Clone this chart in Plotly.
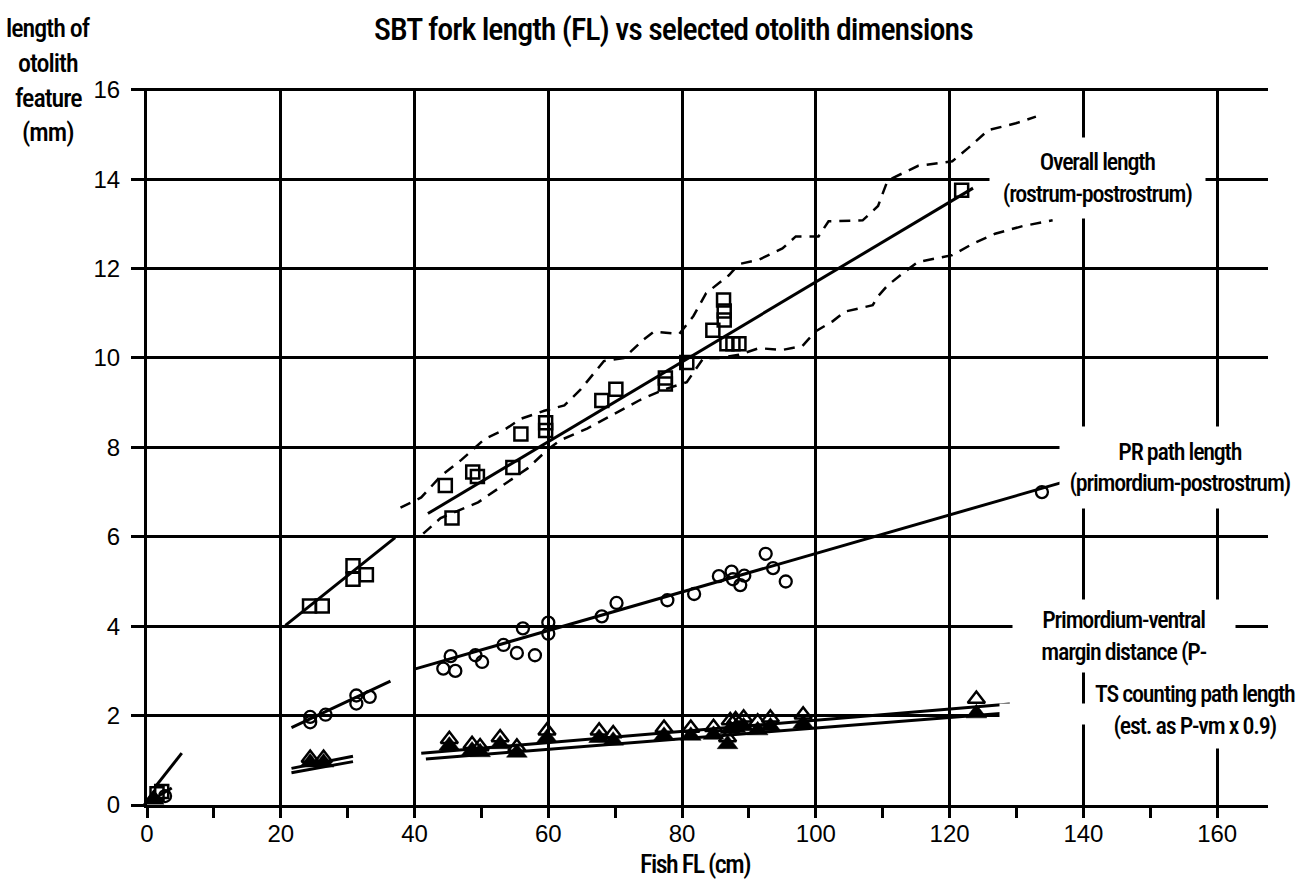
import plotly.graph_objects as go

# ---------------- data ----------------
# Overall length (rostrum-postrostrum), open squares
ol_x = [1.5, 2.2, 24.3, 26.2, 30.8, 30.8, 32.8, 44.6, 45.6, 48.7, 49.4, 54.7, 55.9,
        59.6, 59.6, 68.0, 70.1, 77.5, 77.5, 80.7, 84.6, 86.2, 86.3, 86.3, 86.7,
        87.6, 88.5, 121.8]
ol_y = [0.25, 0.3, 4.45, 4.45, 5.35, 5.05, 5.15, 7.15, 6.42, 7.45, 7.35, 7.55, 8.3,
        8.55, 8.38, 9.05, 9.3, 9.55, 9.42, 9.9, 10.62, 11.3, 11.05, 10.85, 10.32,
        10.32, 10.32, 13.75]
ol_fit0_x = [1.2, 5.2]
ol_fit0_y = [0.4, 1.16]
ol_fit1_x = [20.7, 37.1]
ol_fit1_y = [4.02, 5.98]
ol_fit2_x = [42.0, 123.5]
ol_fit2_y = [6.52, 13.8]

# envelope (dashed) around the adult overall-length fit
upper_x = [37.9, 41.0, 44.0, 47.0, 50.5, 53.5, 55.9, 59.4, 62.4, 64.8, 68.3, 71.3,
           74.3, 75.8, 79.6, 81.7, 83.6, 87.0, 88.5, 91.5, 95.0, 97.0, 100.4, 101.9,
           107.0, 109.3, 110.7, 111.4, 115.3, 120.4, 122.8, 125.8, 129.9, 132.9]
upper_y = [6.65, 6.88, 7.37, 7.72, 8.19, 8.4, 8.64, 8.82, 8.94, 9.29, 9.93, 10.0,
           10.42, 10.59, 10.54, 10.94, 11.45, 11.85, 12.1, 12.2, 12.45, 12.72, 12.72,
           13.06, 13.08, 13.4, 13.96, 14.02, 14.3, 14.4, 14.7, 15.1, 15.25, 15.4]
lower_x = [41.3, 43.9, 49.5, 53.5, 56.9, 59.9, 61.8, 65.8, 69.8, 73.7, 77.2, 80.7,
           83.2, 85.5, 88.5, 91.5, 95.0, 98.0, 100.0, 102.5, 104.4, 108.5, 109.3,
           110.7, 113.3, 115.3, 120.4, 123.4, 126.8, 130.9, 135.4]
lower_y = [6.07, 6.42, 6.77, 7.19, 7.53, 7.95, 8.16, 8.42, 8.75, 9.06, 9.29, 9.46,
           10.0, 10.0, 10.07, 10.22, 10.18, 10.27, 10.6, 10.82, 11.04, 11.18, 11.38,
           11.62, 11.93, 12.15, 12.3, 12.55, 12.78, 12.95, 13.08]

# PR path length (primordium-postrostrum), open circles
pr_x = [2.7, 24.4, 24.4, 26.7, 31.3, 31.3, 33.3, 44.3, 45.4, 46.1, 49.1, 50.1, 53.3,
        55.3, 56.2, 58.0, 60.0, 60.0, 68.0, 70.2, 77.8, 81.8, 85.5, 87.4, 87.6,
        89.3, 88.7, 92.5, 93.6, 95.5, 133.8]
pr_y = [0.2, 1.85, 1.97, 2.02, 2.45, 2.27, 2.42, 3.05, 3.33, 3.0, 3.35, 3.2, 3.58,
        3.4, 3.95, 3.35, 4.08, 3.83, 4.22, 4.52, 4.58, 4.72, 5.12, 5.22, 5.05,
        5.13, 4.92, 5.62, 5.3, 5.0, 7.0]
pr_fit0_x = [1.9, 3.7]
pr_fit0_y = [0.22, 0.38]
pr_fit1_x = [21.6, 36.4]
pr_fit1_y = [1.73, 2.77]
pr_fit2_x = [40.0, 138.8]
pr_fit2_y = [3.04, 7.3]

# Primordium-ventral margin distance (P-vm), open triangles
tri_x = [1.0, 24.4, 26.4, 45.2, 48.6, 49.8, 52.8, 55.3, 59.8, 67.6, 69.7, 77.3,
         81.3, 84.7, 86.8, 87.2, 88.0, 89.2, 91.3, 93.2, 98.1, 124.0]
pvm_y = [0.14, 1.05, 1.05, 1.47, 1.36, 1.31, 1.51, 1.3, 1.66, 1.66, 1.6, 1.72,
         1.72, 1.74, 1.51, 1.89, 1.91, 1.95, 1.86, 1.95, 2.02, 2.37]
pvm_fit1_x = [21.6, 30.8]
pvm_fit1_y = [0.82, 1.09]
pvm_fit2_x = [41.0, 129.0]
pvm_fit2_y = [1.16, 2.26]

# TS counting path length (est. as P-vm x 0.9), filled triangles
ts_y = [0.12, 0.95, 0.95, 1.33, 1.22, 1.18, 1.36, 1.17, 1.5, 1.5, 1.44, 1.55,
        1.55, 1.57, 1.36, 1.7, 1.72, 1.76, 1.67, 1.76, 1.82, 2.05]
ts_fit1_x = [21.6, 30.8]
ts_fit1_y = [0.72, 0.97]
ts_fit2_x = [41.7, 129.5]
ts_fit2_y = [1.03, 2.07]

x_ticks = [0, 20, 40, 60, 80, 100, 120, 140, 160]
y_ticks = [0, 2, 4, 6, 8, 10, 12, 14, 16]

# ---------------- styling ----------------
W, H = 1304, 884
L, R, T, B = 147, 36, 88, 79
PW, PH = W - L - R, H - T - B
COND = ("Noto Sans ExtraCondensed Medium, Noto Sans ExtraCondensed, "
        "Noto Sans Condensed, Roboto Condensed, Roboto, sans-serif")
SANS = "Liberation Sans, Arial, Helvetica, sans-serif"
K = "black"


def paper(px, py):
    return (px - L) / PW, (H - B - py) / PH


def tight(text, ls):
    """wrap each line in a span with negative letter spacing (narrow look)"""
    return "<br>".join('<span style="letter-spacing:%spx">%s</span>' % (ls, t)
                       for t in text.split("<br>"))


fig = go.Figure()


def fit(xs, ys, dash=None, width=3):
    fig.add_trace(go.Scatter(x=xs, y=ys, mode="lines", cliponaxis=False,
                             line=dict(color=K, width=width, dash=dash),
                             hoverinfo="skip"))


for xs, ys in [(ol_fit0_x, ol_fit0_y), (ol_fit1_x, ol_fit1_y), (ol_fit2_x, ol_fit2_y),
               (pr_fit0_x, pr_fit0_y), (pr_fit1_x, pr_fit1_y), (pr_fit2_x, pr_fit2_y),
               (pvm_fit1_x, pvm_fit1_y), (pvm_fit2_x, pvm_fit2_y),
               (ts_fit1_x, ts_fit1_y), (ts_fit2_x, ts_fit2_y)]:
    fit(xs, ys)

fit(upper_x, upper_y, dash="11px,8px", width=2.5)
fit(lower_x, lower_y, dash="11px,8px", width=2.5)

fig.add_trace(go.Scatter(x=ol_x, y=ol_y, mode="markers", cliponaxis=False,
                         marker=dict(symbol="square-open", size=13, color=K,
                                     line=dict(width=2.5, color=K))))
fig.add_trace(go.Scatter(x=pr_x, y=pr_y, mode="markers", cliponaxis=False,
                         marker=dict(symbol="circle-open", size=12, color=K,
                                     line=dict(width=2.3, color=K))))
fig.add_trace(go.Scatter(x=tri_x, y=pvm_y, mode="markers", cliponaxis=False,
                         marker=dict(symbol="triangle-up-open", size=15, color=K,
                                     line=dict(width=2.5, color=K))))
fig.add_trace(go.Scatter(x=tri_x, y=ts_y, mode="markers", cliponaxis=False,
                         marker=dict(symbol="triangle-up", size=18, color=K,
                                     line=dict(width=0.5, color=K))))

annotations = []


def box(px, py, w, h, text, size=24, ls=-1.2):
    x, y = paper(px, py)
    annotations.append(dict(x=x, y=y, xref="paper", yref="paper", text=tight(text, ls),
                            showarrow=False, xanchor="center", yanchor="middle",
                            width=w, height=h, bgcolor="white", borderpad=0,
                            font=dict(family=COND, size=size, color=K, weight=500)))


def label(px, py, text, size=22, ls=-1.0):
    x, y = paper(px, py)
    annotations.append(dict(x=x, y=y, xref="paper", yref="paper", text=tight(text, ls),
                            showarrow=False, xanchor="center", yanchor="middle",
                            font=dict(family=COND, size=size, color=K, weight=500)))


# white boxes that break the grid behind the series labels
box(1097, 178, 215, 80, "Overall length<br>(rostrum-postrostrum)")
box(1180, 467, 240, 81, "PR path length<br>(primordium-postrostrum)")
box(1124, 636, 222, 72, "Primordium-ventral<br>margin distance (P-")
box(1045, 714, 90, 20, " ")
box(1195, 710, 214, 76, "TS counting path length<br>(est. as P-vm x 0.9)")

label(673, 29, "SBT fork length (FL) vs selected otolith dimensions", 32, -1.0)
label(48, 28, "length of", 26, -1.0)
label(48, 63, "otolith", 26, -1.0)
label(48, 98, "feature", 26, -1.0)
label(48, 132, "(mm)", 26, -1.0)
label(695, 864, "Fish FL (cm)", 26, -1.5)

fig.update_layout(
    width=W, height=H, margin=dict(l=L, r=R, t=T, b=B),
    paper_bgcolor="white", plot_bgcolor="white", showlegend=False,
    annotations=annotations,
    xaxis=dict(range=[0, 167.6], tickvals=x_ticks, showgrid=True, gridcolor=K,
               gridwidth=2.5, showline=True, linecolor=K, linewidth=3,
               zeroline=False, ticks="outside", ticklen=10, tickwidth=2.5,
               tickcolor=K, ticklabelstandoff=-5,
               tickfont=dict(family=SANS, size=24, color=K),
               minor=dict(dtick=10, tick0=0, ticks="outside", ticklen=10,
                          tickwidth=2.5, tickcolor=K, showgrid=False),
               fixedrange=True),
    yaxis=dict(range=[0, 16.04], tickvals=y_ticks, showgrid=True, gridcolor=K,
               gridwidth=2.5, showline=True, linecolor=K, linewidth=3,
               zeroline=False, ticks="outside", ticklen=13, tickwidth=2.5,
               tickcolor=K, ticklabelstandoff=6,
               tickfont=dict(family=SANS, size=24, color=K), fixedrange=True),
)

fig.write_html("out.html")
